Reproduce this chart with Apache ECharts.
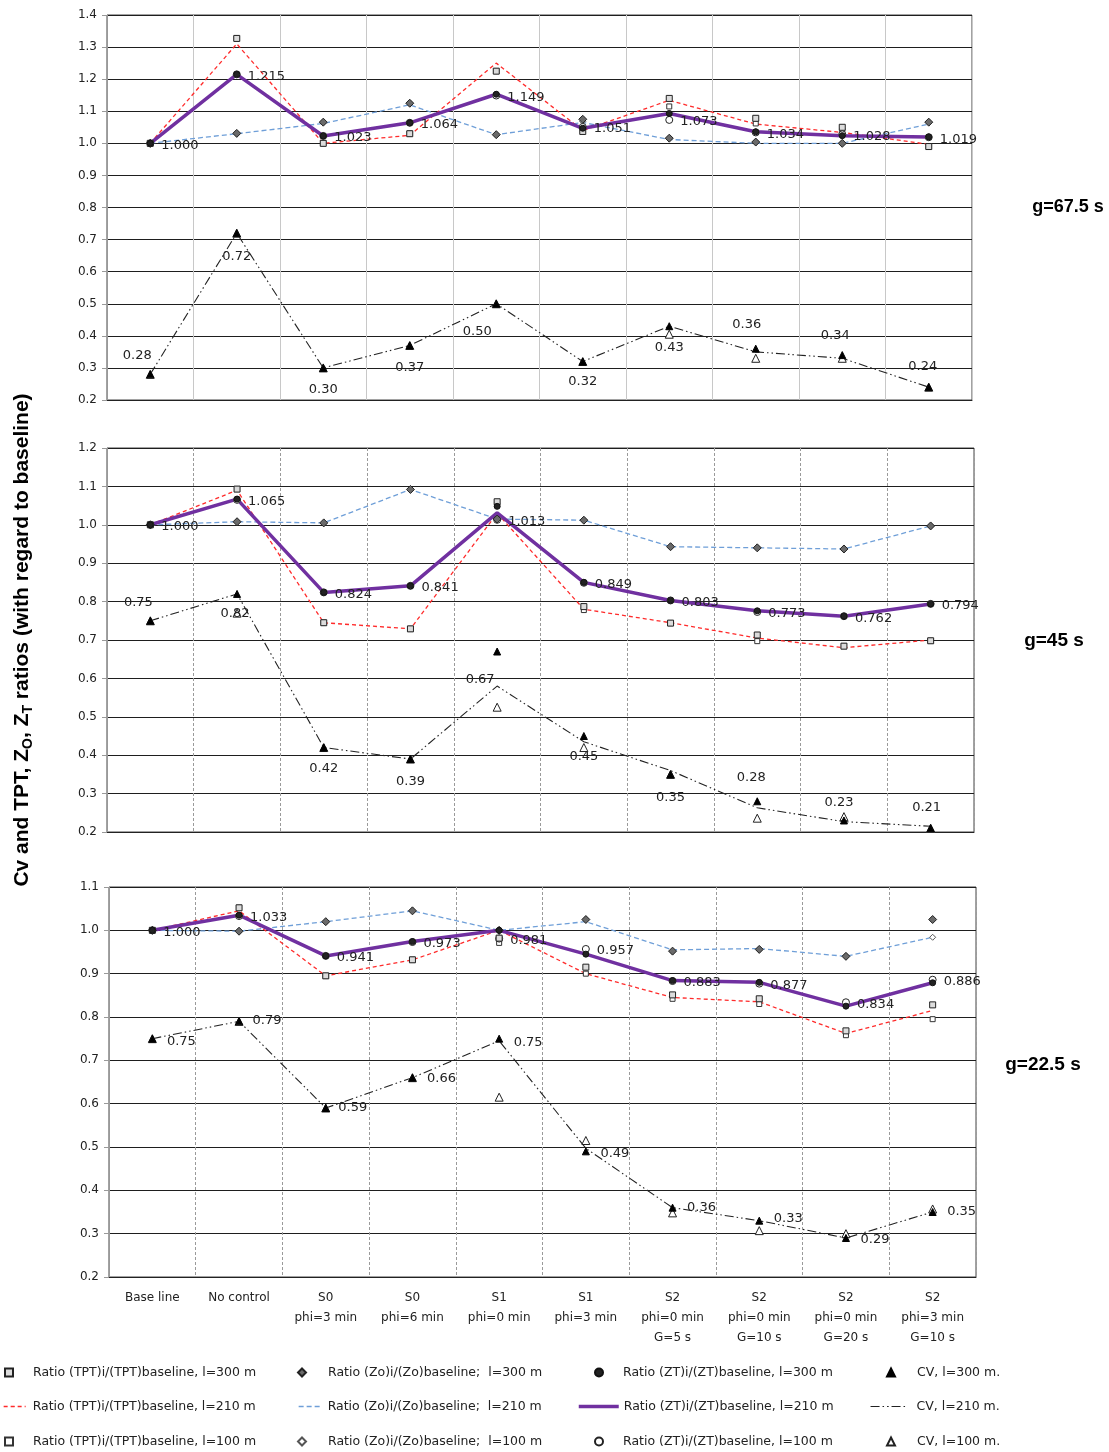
<!DOCTYPE html>
<html>
<head>
<meta charset="utf-8">
<script src="https://cdn.jsdelivr.net/npm/echarts@6/dist/echarts.min.js"></script>
<style>
  html, body { margin: 0; padding: 0; background: #fff; }
  #chart { width: 1109px; height: 1452px; }
</style>
</head>
<body>
<div id="chart"></div>
<script>
// Scenarios along the x axis (shared by the three green-time panels)
const categories = ['Base line', 'No control', 'S0\nphi=3 min', 'S0\nphi=6 min', 'S1\nphi=0 min',
  'S1\nphi=3 min', 'S2\nphi=0 min\nG=5 s', 'S2\nphi=0 min\nG=10 s', 'S2\nphi=0 min\nG=20 s', 'S2\nphi=3 min\nG=10 s'];

const panelTitles = ['g=67.5 s', 'g=45 s', 'g=22.5 s'];

// ---- g = 67.5 s ----
const g675_tpt300 = [1.000, 1.327, 1.000, 1.030, 1.225, 1.037, 1.140, 1.078, 1.050, 0.990];
const g675_tpt210 = [1.000, 1.310, 1.000, 1.025, 1.250, 1.040, 1.134, 1.060, 1.034, 0.997];
const g675_tpt100 = [1.000, 1.327, 1.000, 1.030, 1.225, 1.045, 1.115, 1.062, 1.040, 0.990];
const g675_zo300  = [1.000, 1.031, 1.066, 1.125, 1.027, 1.075, 1.016, 1.004, 1.000, 1.066];
const g675_zo210  = [1.000, 1.030, 1.062, 1.120, 1.027, 1.065, 1.012, 1.000, 1.000, 1.060];
const g675_zo100  = [1.000, 1.031, 1.066, 1.125, 1.027, 1.068, 1.016, 1.004, 1.000, 1.066];
const g675_zt300  = [1.000, 1.215, 1.023, 1.064, 1.153, 1.047, 1.093, 1.036, 1.024, 1.020];
const g675_zt210  = [1.000, 1.215, 1.023, 1.064, 1.153, 1.047, 1.093, 1.036, 1.024, 1.020];
const g675_zt100  = [1.000, 1.215, 1.023, 1.064, 1.149, 1.051, 1.073, 1.034, 1.028, 1.019];
const g675_cv300  = [0.28, 0.72, 0.30, 0.37, 0.50, 0.32, 0.43, 0.36, 0.34, 0.24];
const g675_cv210  = [0.28, 0.72, 0.30, 0.37, 0.50, 0.32, 0.43, 0.35, 0.33, 0.24];
const g675_cv100  = [0.28, 0.72, 0.30, 0.37, 0.50, 0.32, 0.405, 0.33, 0.33, 0.24];

// ---- g = 45 s ----
const g45_tpt300 = [1.000, 1.093, 0.745, 0.729, 1.060, 0.787, 0.744, 0.713, 0.684, 0.698];
const g45_tpt210 = [1.000, 1.090, 0.745, 0.729, 1.030, 0.780, 0.745, 0.705, 0.680, 0.700];
const g45_tpt100 = [1.000, 1.093, 0.745, 0.729, 1.051, 0.778, 0.744, 0.697, 0.684, 0.698];
const g45_zo300  = [1.000, 1.008, 1.005, 1.092, 1.015, 1.012, 0.943, 0.940, 0.937, 0.997];
const g45_zo210  = [1.000, 1.008, 1.005, 1.092, 1.015, 1.012, 0.943, 0.940, 0.937, 0.997];
const g45_zo100  = [1.000, 1.008, 1.005, 1.092, 1.015, 1.012, 0.943, 0.940, 0.937, 0.997];
const g45_zt300  = [1.000, 1.067, 0.824, 0.841, 1.048, 0.850, 0.803, 0.776, 0.762, 0.794];
const g45_zt210  = [1.000, 1.067, 0.824, 0.841, 1.031, 0.850, 0.803, 0.776, 0.762, 0.794];
const g45_zt100  = [1.000, 1.065, 0.824, 0.841, 1.013, 0.849, 0.803, 0.773, 0.762, 0.794];
const g45_cv300  = [0.75, 0.82, 0.42, 0.39, 0.67, 0.45, 0.35, 0.28, 0.23, 0.21];
const g45_cv210  = [0.75, 0.82, 0.42, 0.39, 0.58, 0.435, 0.36, 0.263, 0.227, 0.215];
const g45_cv100  = [0.75, 0.77, 0.42, 0.39, 0.525, 0.42, 0.35, 0.236, 0.24, 0.21];

// ---- g = 22.5 s ----
const g225_tpt300 = [1.000, 1.052, 0.895, 0.932, 0.982, 0.915, 0.851, 0.842, 0.768, 0.828];
const g225_tpt210 = [1.000, 1.045, 0.895, 0.932, 1.000, 0.900, 0.845, 0.835, 0.762, 0.815];
const g225_tpt100 = [1.000, 1.052, 0.895, 0.932, 0.971, 0.900, 0.842, 0.830, 0.758, 0.795];
const g225_zo300  = [1.000, 0.998, 1.020, 1.045, 1.000, 1.025, 0.952, 0.956, 0.940, 1.025];
const g225_zo210  = [1.000, 0.998, 1.020, 1.045, 1.000, 1.020, 0.955, 0.958, 0.940, 0.984];
const g225_zo100  = [1.000, 0.998, 1.020, 1.045, 1.000, 1.025, 0.952, 0.956, 0.940, 0.984];
const g225_zt300  = [1.000, 1.035, 0.941, 0.974, 1.000, 0.945, 0.884, 0.880, 0.825, 0.879];
const g225_zt210  = [1.000, 1.035, 0.941, 0.974, 1.000, 0.945, 0.884, 0.880, 0.825, 0.879];
const g225_zt100  = [1.000, 1.033, 0.941, 0.973, 0.981, 0.957, 0.883, 0.877, 0.834, 0.886];
const g225_cv300  = [0.75, 0.79, 0.59, 0.66, 0.75, 0.49, 0.36, 0.33, 0.29, 0.35];
const g225_cv210  = [0.75, 0.79, 0.59, 0.66, 0.745, 0.497, 0.36, 0.33, 0.29, 0.35];
const g225_cv100  = [0.75, 0.79, 0.59, 0.66, 0.615, 0.515, 0.348, 0.307, 0.30, 0.357];

// Placement of the CV value labels, [dx, dy] from each triangle
const g675_cvLabelShift = [[-13,-19],[0,23],[0,22],[0,22],[-19,28],[0,20],[0,21],[-9,-24],[-7,-19],[-6,-21]];
const g45_cvLabelShift  = [[-12,-18],[-2,20],[0,21],[0,23],[-17,28],[0,21],[0,23],[-6,-24],[-5,-18],[-4,-21]];
const g225_cvLabelShift = [[29,3],[28,-1],[27,0],[29,1],[29,4],[29,2],[29,0],[29,-2],[29,2],[29,0]];

const panels = [
  { tpt300: g675_tpt300, tpt210: g675_tpt210, tpt100: g675_tpt100, zo300: g675_zo300, zo210: g675_zo210, zo100: g675_zo100,
    zt300: g675_zt300, zt210: g675_zt210, zt100: g675_zt100, cv300: g675_cv300, cv210: g675_cv210, cv100: g675_cv100,
    cvShift: g675_cvLabelShift },
  { tpt300: g45_tpt300, tpt210: g45_tpt210, tpt100: g45_tpt100, zo300: g45_zo300, zo210: g45_zo210, zo100: g45_zo100,
    zt300: g45_zt300, zt210: g45_zt210, zt100: g45_zt100, cv300: g45_cv300, cv210: g45_cv210, cv100: g45_cv100,
    cvShift: g45_cvLabelShift },
  { tpt300: g225_tpt300, tpt210: g225_tpt210, tpt100: g225_tpt100, zo300: g225_zo300, zo210: g225_zo210, zo100: g225_zo100,
    zt300: g225_zt300, zt210: g225_zt210, zt100: g225_zt100, cv300: g225_cv300, cv210: g225_cv210, cv100: g225_cv100,
    cvShift: g225_cvLabelShift }
];

const NAMES = {
  tpt300: 'Ratio (TPT)i/(TPT)baseline, l=300 m', zo300: 'Ratio (Zo)i/(Zo)baseline;  l=300 m',
  zt300: 'Ratio (ZT)i/(ZT)baseline, l=300 m', cv300: 'CV, l=300 m.',
  tpt210: 'Ratio (TPT)i/(TPT)baseline, l=210 m', zo210: 'Ratio (Zo)i/(Zo)baseline;  l=210 m',
  zt210: 'Ratio (ZT)i/(ZT)baseline, l=210 m', cv210: 'CV, l=210 m.',
  tpt100: 'Ratio (TPT)i/(TPT)baseline, l=100 m', zo100: 'Ratio (Zo)i/(Zo)baseline;  l=100 m',
  zt100: 'Ratio (ZT)i/(ZT)baseline, l=100 m', cv100: 'CV, l=100 m.'
};

const FONT = 'DejaVu Sans';
const grids = [
  { left: 107, top: 15, width: 865, height: 385 },
  { left: 107, top: 448, width: 867, height: 384 },
  { left: 109, top: 887, width: 867, height: 390 }
];
const yRanges = [[0.2, 1.4], [0.2, 1.2], [0.2, 1.1]];

const lineStyles = {
  tpt210: { color: '#ff2b2b', width: 1.3, type: [4, 3] },
  zo210:  { color: '#6f9fd8', width: 1.3, type: [5, 3] },
  zt210:  { color: '#7030a0', width: 3.5, type: 'solid' },
  cv210:  { color: '#222222', width: 1.1, type: [9, 3, 1.5, 3, 1.5, 3] }
};
const markerStyles = {
  tpt100: { symbol: 'rect', size: 5, fill: '#ffffff', border: '#333' },
  zo100:  { symbol: 'diamond', size: 6, fill: '#ffffff', border: '#555' },
  cv100:  { symbol: 'triangle', size: 8, fill: '#ffffff', border: '#222' },
  zt100:  { symbol: 'circle', size: 7, fill: '#ffffff', border: '#222' },
  tpt300: { symbol: 'rect', size: 6, fill: '#dcdcdc', border: '#222' },
  zo300:  { symbol: 'diamond', size: 8, fill: '#6a6a6a', border: '#222' },
  zt300:  { symbol: 'circle', size: 6, fill: '#222222', border: '#111' },
  cv300:  { symbol: 'triangle', size: 7, fill: '#000000', border: '#000' }
};

const series = [];
panels.forEach((p, gi) => {
  ['zo210', 'tpt210', 'cv210', 'zt210'].forEach(k => {
    series.push({
      name: NAMES[k], type: 'line', xAxisIndex: gi, yAxisIndex: gi,
      data: p[k], symbol: 'none', lineStyle: lineStyles[k], itemStyle: { color: lineStyles[k].color },
      emphasis: { disabled: true }, z: 2
    });
  });
  ['tpt100', 'zo100', 'cv100', 'zt100', 'tpt300', 'zo300', 'zt300', 'cv300'].forEach(k => {
    const m = markerStyles[k];
    const s = {
      name: NAMES[k], type: 'scatter', xAxisIndex: gi, yAxisIndex: gi,
      symbol: m.symbol, symbolSize: m.size,
      itemStyle: { color: m.fill, borderColor: m.border, borderWidth: 1, opacity: 1 },
      data: p[k].map((v, i) => [i, v]),
      emphasis: { disabled: true }, z: 3
    };
    if (k === 'zt100') {
      s.label = {
        show: true, position: 'right', distance: 7, offset: [0, 2],
        fontFamily: FONT, fontSize: 13, color: '#222',
        formatter: d => d.value[1].toFixed(3)
      };
    }
    if (k === 'cv300') {
      s.data = p[k].map((v, i) => ({ value: [i, v], label: { offset: p.cvShift[i] } }));
      s.label = {
        show: true, position: 'inside', fontFamily: FONT, fontSize: 13, color: '#222',
        formatter: d => d.value[1].toFixed(2)
      };
    }
    series.push(s);
  });
});

const xAxes = grids.map((g, gi) => ({
  type: 'category', gridIndex: gi, data: categories, boundaryGap: true,
  axisLine: { show: true, lineStyle: { color: '#222', width: 1 } },
  axisTick: { show: false },
  axisLabel: {
    show: gi === 2, interval: 0, margin: 11, fontFamily: FONT, fontSize: 12,
    color: '#222', lineHeight: 20
  },
  splitLine: {
    show: true, interval: 0,
    lineStyle: gi === 0 ? { color: '#c8c8c8', width: 1, type: 'solid' }
                        : { color: '#9a9a9a', width: 1, type: [3, 2] }
  }
}));

const yAxes = grids.map((g, gi) => ({
  type: 'value', gridIndex: gi, min: yRanges[gi][0], max: yRanges[gi][1], interval: 0.1,
  axisLine: { show: true, lineStyle: { color: '#999', width: 1 } },
  axisTick: { show: true, length: 5, lineStyle: { color: '#999' } },
  axisLabel: { fontFamily: FONT, fontSize: 12, color: '#222', margin: 10, formatter: v => v.toFixed(1) },
  splitLine: { show: true, lineStyle: { color: '#1e1e1e', width: 1.2 } }
}));

// Legend: 3 rows x 4 columns, one legend component per entry
// [series key, left, icon width, icon height, gap before text]
const legendRows = [
  [['tpt300', 4, 8, 8, 15], ['zo300', 297, 8, 8, 17], ['zt300', 594, 8, 8, 15], ['cv300', 886, 8, 8, 17]],
  [['tpt210', 3, 22, 1, 2], ['zo210', 298, 23, 1, 1], ['zt210', 577, 40, 1, 0], ['cv210', 870, 35, 1, 6]],
  [['tpt100', 4, 8, 8, 15], ['zo100', 297, 8, 8, 17], ['zt100', 594, 8, 8, 15], ['cv100', 886, 8, 8, 17]]
];
const legendTops = [1366, 1400, 1435];
const legends = [];
legendRows.forEach((row, ri) => {
  row.forEach(([k, left, w, h, pad]) => {
    const lg = {
      data: [NAMES[k]], left: left, top: legendTops[ri], itemWidth: w, itemHeight: h,
      selectedMode: false, padding: 0,
      textStyle: { fontFamily: FONT, fontSize: 12.5, color: '#222', padding: [0, 0, 0, pad] }
    };
    if (lineStyles[k]) lg.lineStyle = { width: lineStyles[k].width };
    legends.push(lg);
  });
});

const chart = echarts.init(document.getElementById('chart'), null, { renderer: 'canvas' });
chart.setOption({
  animation: false,
  backgroundColor: '#ffffff',
  grid: grids.map(g => Object.assign({ show: true, borderColor: '#444', borderWidth: 1, backgroundColor: 'transparent' }, g)),
  xAxis: xAxes,
  yAxis: yAxes,
  legend: legends,
  series: series,
  graphic: [
    {
      type: 'text', x: 22, y: 640, rotation: Math.PI / 2,
      style: {
        text: '{a|Cv and TPT, Z}{s|O}{a|, Z}{s|T}{a| ratios (with regard to baseline)}',
        align: 'center', verticalAlign: 'middle',
        rich: {
          a: { fontFamily: 'Liberation Sans', fontWeight: 'bold', fontSize: 21, lineHeight: 26, fill: '#000' },
          s: { fontFamily: 'Liberation Sans', fontWeight: 'bold', fontSize: 14, lineHeight: 15, verticalAlign: 'bottom', fill: '#000' }
        }
      }
    },
    { type: 'text', x: 1068, y: 207, style: { text: panelTitles[0], align: 'center', verticalAlign: 'middle',
      font: 'bold 18px "Liberation Sans"', fill: '#000' } },
    { type: 'text', x: 1054, y: 641, style: { text: panelTitles[1], align: 'center', verticalAlign: 'middle',
      font: 'bold 19px "Liberation Sans"', fill: '#000' } },
    { type: 'text', x: 1043, y: 1065, style: { text: panelTitles[2], align: 'center', verticalAlign: 'middle',
      font: 'bold 19px "Liberation Sans"', fill: '#000' } }
  ]
});
</script>
</body>
</html>
